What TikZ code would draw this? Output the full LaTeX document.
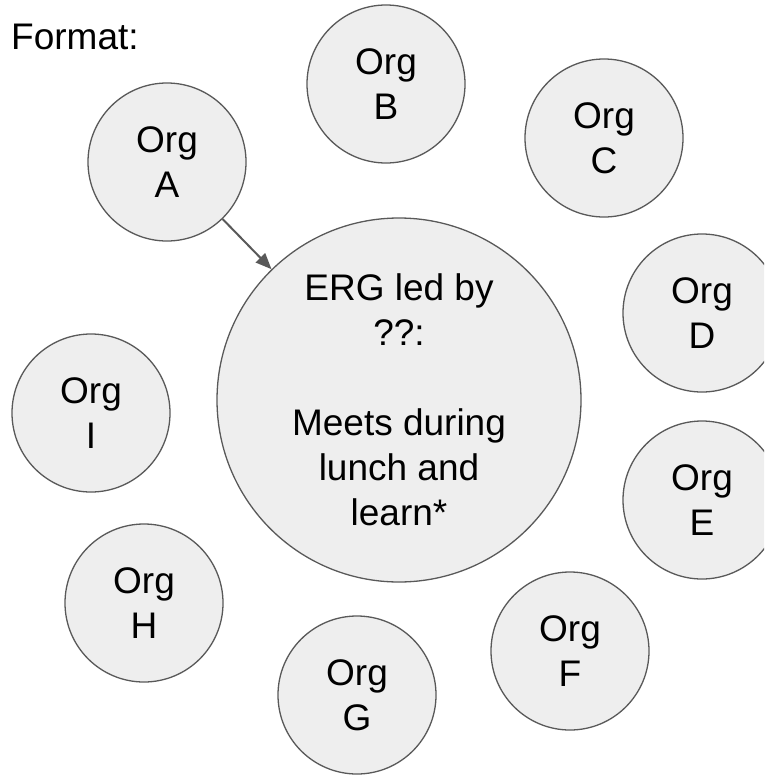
\documentclass[tikz,border=0pt]{standalone}
\usepackage{fontspec}
\setmainfont{Liberation Sans}
\usetikzlibrary{arrows.meta}
\definecolor{orgfill}{HTML}{EEEEEE}
\definecolor{orgline}{HTML}{595959}
\tikzset{
  orgnode/.style={circle, draw=orgline, fill=orgfill, line width=1.3pt,
    minimum size=158pt, inner sep=0pt, align=center,
    font=\fontsize{37}{45}\selectfont},
  bignode/.style={orgnode, minimum size=364pt},
  link/.style={draw=orgline, line width=2pt, -{Triangle[length=16pt,width=13pt]}}
}
\begin{document}
\begin{tikzpicture}[x=1pt,y=-1pt]
\useasboundingbox (0,0) rectangle (764,776);
\begin{scope}
\clip (0,0) rectangle (764,776);
\node[anchor=base west, font=\fontsize{37}{45}\selectfont, inner sep=0pt] (fmt) at (11,49) {Format:};
\node[orgnode] (A) at (167,162) {Org\\A};
\node[orgnode] (B) at (386,84) {Org\\B};
\node[orgnode] (C) at (604,138) {Org\\C};
\node[orgnode] (D) at (702,313) {Org\\D};
\node[orgnode] (E) at (702,500) {Org\\E};
\node[orgnode] (F) at (570,651) {Org\\F};
\node[orgnode] (G) at (357,695) {Org\\G};
\node[orgnode] (H) at (144,603) {Org\\H};
\node[orgnode] (I) at (91,413) {Org\\I};
\node[bignode] (ERG) at (399,400) {ERG led by\\??:\\\mbox{}\\Meets during\\lunch and\\learn*};
\draw[link] (A) -- (ERG);
\end{scope}
\end{tikzpicture}
\end{document}
